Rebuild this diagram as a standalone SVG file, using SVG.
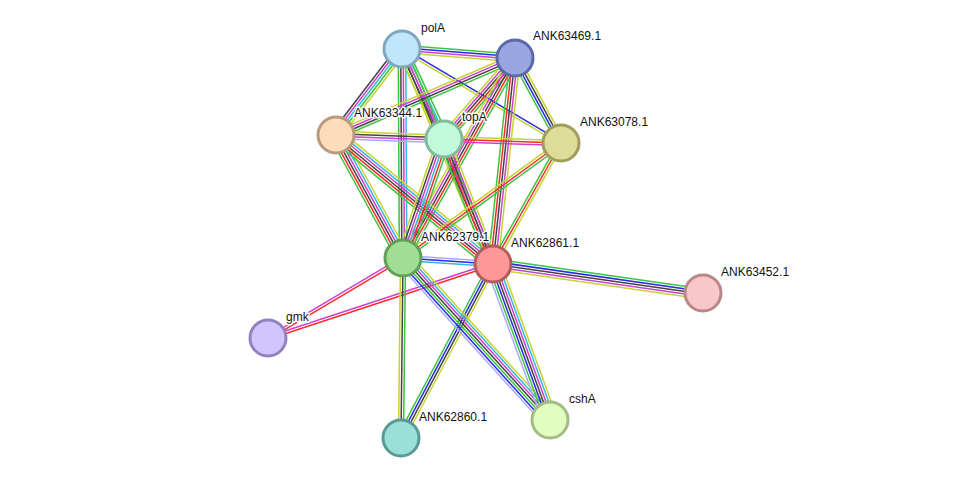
<svg xmlns="http://www.w3.org/2000/svg" width="976" height="485" viewBox="0 0 976 485">
<style>
line{stroke-width:1.5;fill:none}
.g{stroke:#3cc43c}.b{stroke:#2a2af0}.m{stroke:#d040d0}.k{stroke:#444}.y{stroke:#c4d430}.r{stroke:#ff2a2a}.c{stroke:#36b8e0}.l{stroke:#a8a8ff}
circle{stroke-width:3}
text{font-family:"Liberation Sans",Arial,sans-serif;font-size:12px;fill:#111;stroke:#fff;stroke-width:3;paint-order:stroke;stroke-linejoin:round}
</style>
<rect width="976" height="485" fill="#fff"/>
<g id="edges">
<!-- P-Q -->
<g transform="translate(402 49) rotate(4.55)"><line x2="113.4" y1="-3.75" y2="-3.75" class="g"/><line x2="113.4" y1="-1.25" y2="-1.25" class="b"/><line x2="113.4" y1="1.25" y2="1.25" class="m"/><line x2="113.4" y1="3.75" y2="3.75" class="y"/></g>
<!-- P-U -->
<g transform="translate(402 49) rotate(30.6)"><line x2="184.7" y1="-1.25" y2="-1.25" class="b"/><line x2="184.7" y1="1.25" y2="1.25" class="y"/></g>
<!-- P-S -->
<g transform="translate(402 49) rotate(127.5)"><line x2="108.4" y1="-5" y2="-5" class="y"/><line x2="108.4" y1="-2.5" y2="-2.5" class="g"/><line x2="108.4" class="c"/><line x2="108.4" y1="2.5" y2="2.5" class="m"/><line x2="108.4" y1="5" y2="5" class="k"/></g>
<!-- P-T -->
<g transform="translate(402 49) rotate(65)"><line x2="99.3" y1="-5" y2="-5" class="g"/><line x2="99.3" y1="-2.5" y2="-2.5" class="c"/><line x2="99.3" class="m"/><line x2="99.3" y1="2.5" y2="2.5" class="k"/><line x2="99.3" y1="5" y2="5" class="y"/></g>
<!-- P-A -->
<g transform="translate(402 49) rotate(89.7)"><line x2="209" y1="-3.75" y2="-3.75" class="c"/><line x2="209" y1="-1.25" y2="-1.25" class="m"/><line x2="209" y1="1.25" y2="1.25" class="k"/><line x2="209" y1="3.75" y2="3.75" class="g"/></g>
<!-- P-B -->
<g transform="translate(402 49) rotate(67.07)"><line x2="233.5" y1="-3.75" y2="-3.75" class="g"/><line x2="233.5" y1="-1.25" y2="-1.25" class="m"/><line x2="233.5" y1="1.25" y2="1.25" class="k"/><line x2="233.5" y1="3.75" y2="3.75" class="y"/></g>
<!-- Q-S -->
<g transform="translate(515 58) rotate(156.7)"><line x2="194.9" y1="-3.75" y2="-3.75" class="g"/><line x2="194.9" y1="-1.25" y2="-1.25" class="k"/><line x2="194.9" y1="1.25" y2="1.25" class="m"/><line x2="194.9" y1="3.75" y2="3.75" class="y"/></g>
<!-- Q-T -->
<g transform="translate(515 58) rotate(131.2)"><line x2="107.7" y1="-5" y2="-5" class="g"/><line x2="107.7" y1="-2.5" y2="-2.5" class="r"/><line x2="107.7" class="k"/><line x2="107.7" y1="2.5" y2="2.5" class="m"/><line x2="107.7" y1="5" y2="5" class="y"/></g>
<!-- Q-U -->
<g transform="translate(515 58) rotate(61.6)"><line x2="96.6" y1="-3.75" y2="-3.75" class="y"/><line x2="96.6" y1="-1.25" y2="-1.25" class="k"/><line x2="96.6" y1="1.25" y2="1.25" class="b"/><line x2="96.6" y1="3.75" y2="3.75" class="g"/></g>
<!-- Q-A -->
<g transform="translate(515 58) rotate(119.25)"><line x2="229.2" y1="-5" y2="-5" class="g"/><line x2="229.2" y1="-2.5" y2="-2.5" class="r"/><line x2="229.2" class="k"/><line x2="229.2" y1="2.5" y2="2.5" class="m"/><line x2="229.2" y1="5" y2="5" class="y"/></g>
<!-- Q-B -->
<g transform="translate(515 58) rotate(96.1)"><line x2="207.2" y1="-5" y2="-5" class="y"/><line x2="207.2" y1="-2.5" y2="-2.5" class="m"/><line x2="207.2" class="k"/><line x2="207.2" y1="2.5" y2="2.5" class="r"/><line x2="207.2" y1="5" y2="5" class="g"/></g>
<!-- S-T -->
<g transform="translate(336 135) rotate(2.12)"><line x2="108.1" y1="-3.75" y2="-3.75" class="y"/><line x2="108.1" y1="-1.25" y2="-1.25" class="k"/><line x2="108.1" y1="1.25" y2="1.25" class="m"/><line x2="108.1" y1="3.75" y2="3.75" class="l"/></g>
<!-- T-U -->
<g transform="translate(444 139) rotate(1.96)"><line x2="117.1" y1="-2.5" y2="-2.5" class="y"/><line x2="117.1" class="r"/><line x2="117.1" y1="2.5" y2="2.5" class="m"/></g>
<!-- S-A -->
<g transform="translate(336 135) rotate(61.4)"><line x2="140.1" y1="-6.25" y2="-6.25" class="y"/><line x2="140.1" y1="-3.75" y2="-3.75" class="c"/><line x2="140.1" y1="-1.25" y2="-1.25" class="m"/><line x2="140.1" y1="1.25" y2="1.25" class="k"/><line x2="140.1" y1="3.75" y2="3.75" class="r"/><line x2="140.1" y1="6.25" y2="6.25" class="g"/></g>
<!-- S-B -->
<g transform="translate(336 135) rotate(39.4)"><line x2="203.2" y1="-6.25" y2="-6.25" class="y"/><line x2="203.2" y1="-3.75" y2="-3.75" class="c"/><line x2="203.2" y1="-1.25" y2="-1.25" class="m"/><line x2="203.2" y1="1.25" y2="1.25" class="k"/><line x2="203.2" y1="3.75" y2="3.75" class="r"/><line x2="203.2" y1="6.25" y2="6.25" class="g"/></g>
<!-- T-A -->
<g transform="translate(444 139) rotate(109)"><line x2="125.9" y1="-6.25" y2="-6.25" class="g"/><line x2="125.9" y1="-3.75" y2="-3.75" class="r"/><line x2="125.9" y1="-1.25" y2="-1.25" class="c"/><line x2="125.9" y1="1.25" y2="1.25" class="m"/><line x2="125.9" y1="3.75" y2="3.75" class="k"/><line x2="125.9" y1="6.25" y2="6.25" class="y"/></g>
<!-- T-B -->
<g transform="translate(444 139) rotate(68.6)"><line x2="134.3" y1="-5" y2="-5" class="y"/><line x2="134.3" y1="-2.5" y2="-2.5" class="m"/><line x2="134.3" class="k"/><line x2="134.3" y1="2.5" y2="2.5" class="r"/><line x2="134.3" y1="5" y2="5" class="g"/></g>
<!-- U-A -->
<g transform="translate(561 143) rotate(143.95)"><line x2="195.4" y1="-2.5" y2="-2.5" class="g"/><line x2="195.4" class="r"/><line x2="195.4" y1="2.5" y2="2.5" class="y"/></g>
<!-- U-B -->
<g transform="translate(561 143) rotate(119.34)"><line x2="138.8" y1="-2.5" y2="-2.5" class="y"/><line x2="138.8" class="r"/><line x2="138.8" y1="2.5" y2="2.5" class="g"/></g>
<!-- A-B -->
<g transform="translate(403 258) rotate(3.81)"><line x2="90.2" y1="-2.5" y2="-2.5" class="l"/><line x2="90.2" class="b"/><line x2="90.2" y1="2.5" y2="2.5" class="c"/></g>
<!-- A-G -->
<g transform="translate(403 258) rotate(149.35)"><line x2="156.9" y1="-1.25" y2="-1.25" class="r"/><line x2="156.9" y1="1.25" y2="1.25" class="m"/></g>
<!-- B-G -->
<g transform="translate(493 264) rotate(161.8)"><line x2="236.9" y1="-1.25" y2="-1.25" class="r"/><line x2="236.9" y1="1.25" y2="1.25" class="m"/></g>
<!-- B-C -->
<g transform="translate(493 264) rotate(8.13)"><line x2="212.1" y1="-5" y2="-5" class="g"/><line x2="212.1" y1="-2.5" y2="-2.5" class="b"/><line x2="212.1" class="k"/><line x2="212.1" y1="2.5" y2="2.5" class="m"/><line x2="212.1" y1="5" y2="5" class="y"/></g>
<!-- A-N -->
<g transform="translate(403 258) rotate(90.64)"><line x2="180" y1="-2.5" y2="-2.5" class="g"/><line x2="180" class="k"/><line x2="180" y1="2.5" y2="2.5" class="y"/></g>
<!-- B-N -->
<g transform="translate(493 264) rotate(117.87)"><line x2="196.8" y1="-3.75" y2="-3.75" class="y"/><line x2="196.8" y1="-1.25" y2="-1.25" class="k"/><line x2="196.8" y1="1.25" y2="1.25" class="b"/><line x2="196.8" y1="3.75" y2="3.75" class="g"/></g>
<!-- A-H -->
<g transform="translate(403 258) rotate(47.78)"><line x2="218.8" y1="-7.5" y2="-7.5" class="y"/><line x2="218.8" y1="-5" y2="-5" class="c"/><line x2="218.8" y1="-2.5" y2="-2.5" class="m"/><line x2="218.8" class="k"/><line x2="218.8" y1="2.5" y2="2.5" class="g"/><line x2="218.8" y1="5" y2="5" class="b"/><line x2="218.8" y1="7.5" y2="7.5" class="l"/></g>
<!-- B-H -->
<g transform="translate(493 264) rotate(69.93)"><line x2="166.1" y1="-7.5" y2="-7.5" class="y"/><line x2="166.1" y1="-5" y2="-5" class="c"/><line x2="166.1" y1="-2.5" y2="-2.5" class="m"/><line x2="166.1" class="k"/><line x2="166.1" y1="2.5" y2="2.5" class="b"/><line x2="166.1" y1="5" y2="5" class="g"/><line x2="166.1" y1="7.5" y2="7.5" class="l"/></g>
</g>
<g id="polA"><circle cx="402" cy="49" r="18" fill="#c1e6fb" stroke="#80a6c2"/><text x="421" y="32">polA</text></g>
<g id="ANK63469.1"><circle cx="515" cy="58" r="18" fill="#9aa6df" stroke="#5b69a8"/><text x="533" y="40">ANK63469.1</text></g>
<g id="ANK63344.1"><circle cx="336" cy="135" r="18" fill="#fddcbb" stroke="#b89a7c"/><text x="354" y="117">ANK63344.1</text></g>
<g id="topA"><circle cx="444" cy="139" r="18" fill="#c1f9dc" stroke="#82ba9c"/><text x="462" y="121">topA</text></g>
<g id="ANK63078.1"><circle cx="561" cy="143" r="18" fill="#dedc99" stroke="#a09c5a"/><text x="580" y="126">ANK63078.1</text></g>
<g id="ANK62379.1"><circle cx="403" cy="258" r="18" fill="#a0de94" stroke="#62a05a"/><text x="421" y="241">ANK62379.1</text></g>
<g id="ANK62861.1"><circle cx="493" cy="264" r="18" fill="#fe9898" stroke="#b25c5c"/><text x="511" y="247">ANK62861.1</text></g>
<g id="ANK63452.1"><circle cx="703" cy="293" r="18" fill="#f8c8c8" stroke="#b88888"/><text x="721" y="276">ANK63452.1</text></g>
<g id="gmk"><circle cx="268" cy="338" r="18" fill="#d2c4fc" stroke="#9282c2"/><text x="286" y="321">gmk</text></g>
<g id="cshA"><circle cx="550" cy="420" r="18" fill="#e2fdc0" stroke="#a2bc82"/><text x="569" y="403">cshA</text></g>
<g id="ANK62860.1"><circle cx="401" cy="438" r="18" fill="#9ae0d9" stroke="#5b9a94"/><text x="419" y="421">ANK62860.1</text></g>
</svg>
